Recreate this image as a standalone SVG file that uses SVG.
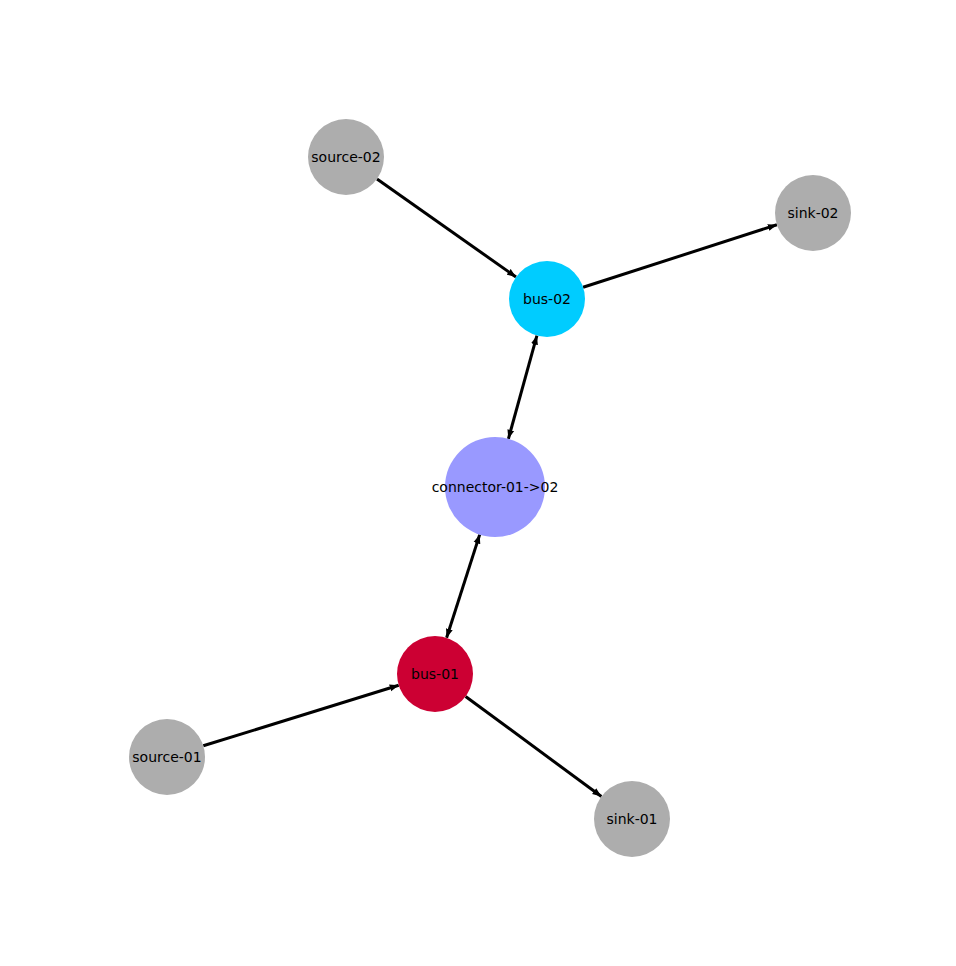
<svg xmlns="http://www.w3.org/2000/svg" width="956" height="966" viewBox="0 0 956 966">
<style>
.e{stroke:#000;stroke-width:3;fill:none;marker-end:url(#a)}
.b{marker-start:url(#a)}
text{font-family:"DejaVu Sans",sans-serif;font-size:14px;text-anchor:middle;dominant-baseline:central;fill:#000}
.g{fill:#adadad}
</style>
<defs><marker id="a" markerUnits="userSpaceOnUse" markerWidth="10" markerHeight="8" refX="9" refY="4" orient="auto-start-reverse"><path d="M0,0.5 L9,4 L0,7.5z" fill="#000"/></marker></defs>
<rect width="956" height="966" fill="#fff"/>
<g id="connectors">
<line class="e" x1="377" y1="179" x2="516" y2="277"/>
<line class="e" x1="583.1" y1="287.3" x2="776.9" y2="224.7"/>
<line class="e b" x1="536.9" y1="335.6" x2="508.4" y2="438.8"/>
<line class="e b" x1="479.7" y1="534.6" x2="446.6" y2="637.8"/>
<line class="e" x1="203.3" y1="745.8" x2="398.7" y2="685.2"/>
<line class="e" x1="465.6" y1="696.5" x2="601.4" y2="796.5"/>
</g>
<g id="source-02"><circle class="g" cx="346" cy="157" r="38"/><text x="346" y="157">source-02</text></g>
<g id="sink-02"><circle class="g" cx="813" cy="213" r="38"/><text x="813" y="213">sink-02</text></g>
<g id="bus-02"><circle fill="#00ccff" cx="547" cy="299" r="38"/><text x="547" y="299">bus-02</text></g>
<g id="connector-01-02"><circle fill="#9999ff" cx="495" cy="487" r="50"/><text x="495" y="487">connector-01-&gt;02</text></g>
<g id="bus-01"><circle fill="#cc0033" cx="435" cy="674" r="38"/><text x="435" y="674">bus-01</text></g>
<g id="source-01"><circle class="g" cx="167" cy="757" r="38"/><text x="167" y="757">source-01</text></g>
<g id="sink-01"><circle class="g" cx="632" cy="819" r="38"/><text x="632" y="819">sink-01</text></g>
</svg>
